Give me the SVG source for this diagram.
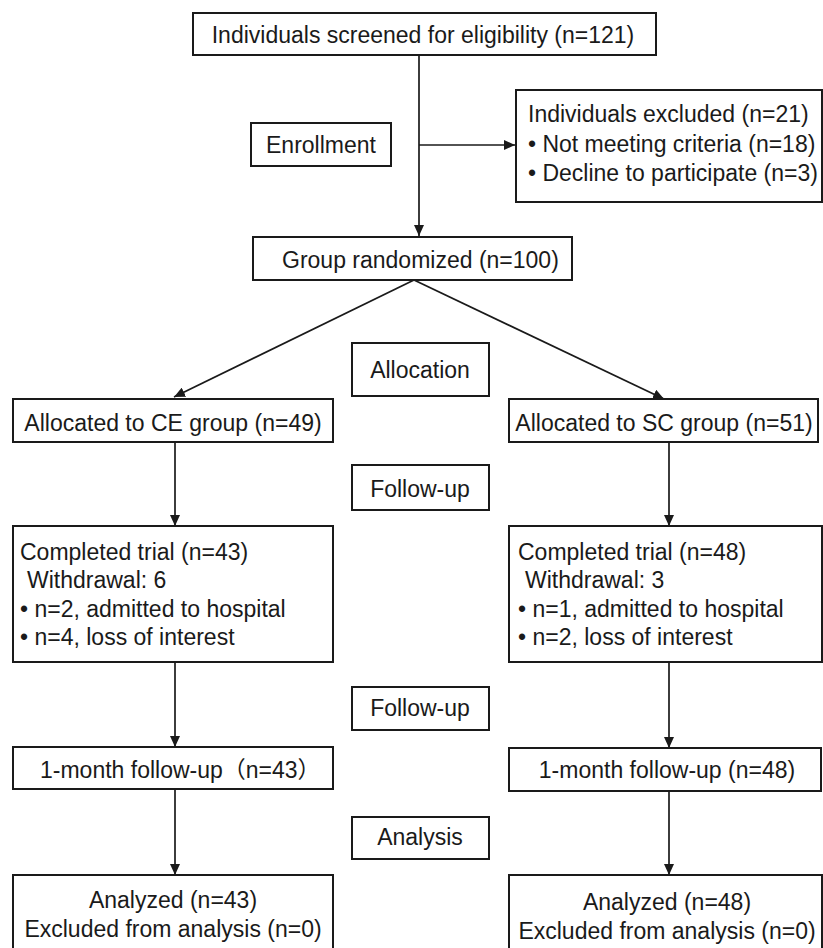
<svg xmlns="http://www.w3.org/2000/svg" width="823" height="948" viewBox="0 0 823 948">
<style>
rect{fill:#fff;stroke:#1a1a1a;stroke-width:2}
text{font-family:"Liberation Sans","Noto Sans CJK SC",Arial,sans-serif;font-size:23px;fill:#1a1a1a}
.c{text-anchor:middle}
.ln{stroke:#1a1a1a;stroke-width:1.7;fill:none;marker-end:url(#ah)}
</style>
<defs>
<marker id="ah" markerUnits="userSpaceOnUse" markerWidth="12" markerHeight="10" refX="11" refY="5" orient="auto">
<path d="M0,0 L11,5 L0,10 Z" fill="#1a1a1a"/>
</marker>
</defs>
<rect x="0" y="0" width="823" height="948" style="stroke:none"/>
<g id="connectors">
<line class="ln" x1="419" y1="55" x2="419" y2="236"/>
<line class="ln" x1="419" y1="145" x2="515" y2="145"/>
<line class="ln" x1="414" y1="280" x2="174" y2="397"/>
<line class="ln" x1="414" y1="280" x2="664" y2="399"/>
<line class="ln" x1="175" y1="442" x2="175" y2="526"/>
<line class="ln" x1="669" y1="442" x2="669" y2="526"/>
<line class="ln" x1="175" y1="662" x2="175" y2="747"/>
<line class="ln" x1="669" y1="662" x2="669" y2="748"/>
<line class="ln" x1="175" y1="789" x2="175" y2="875"/>
<line class="ln" x1="669" y1="791" x2="669" y2="875"/>
</g>
<g id="screened"><rect x="193" y="13" width="463" height="42"/><text class="c" x="423" y="43">Individuals screened for eligibility (n=121)</text></g>
<g id="enrollment"><rect x="251" y="123" width="140" height="43"/><text class="c" x="321" y="153">Enrollment</text></g>
<g id="excluded"><rect x="516" y="90" width="306" height="112"/>
<text x="528" y="122">Individuals excluded (n=21)</text>
<text x="528" y="152">• Not meeting criteria (n=18)</text>
<text x="528" y="181">• Decline to participate (n=3)</text></g>
<g id="randomized"><rect x="253" y="237" width="319" height="43"/><text x="282" y="268">Group randomized (n=100)</text></g>
<g id="allocation"><rect x="352" y="343" width="137" height="53"/><text class="c" x="420" y="378">Allocation</text></g>
<g id="alloc-ce"><rect x="13" y="399" width="320" height="43"/><text class="c" x="173" y="431">Allocated to CE group (n=49)</text></g>
<g id="alloc-sc"><rect x="509" y="399" width="309" height="43"/><text class="c" x="664" y="431">Allocated to SC group (n=51)</text></g>
<g id="followup1"><rect x="352" y="465" width="137" height="45"/><text class="c" x="420" y="497">Follow-up</text></g>
<g id="completed-ce"><rect x="13" y="526" width="320" height="136"/>
<text x="20" y="560">Completed trial (n=43)</text>
<text x="27" y="588">Withdrawal: 6</text>
<text x="20" y="617">• n=2, admitted to hospital</text>
<text x="20" y="645">• n=4, loss of interest</text></g>
<g id="completed-sc"><rect x="509" y="526" width="313" height="136"/>
<text x="518" y="560">Completed trial (n=48)</text>
<text x="525" y="588">Withdrawal: 3</text>
<text x="518" y="617">• n=1, admitted to hospital</text>
<text x="518" y="645">• n=2, loss of interest</text></g>
<g id="followup2"><rect x="352" y="687" width="137" height="43"/><text class="c" x="420" y="716">Follow-up</text></g>
<g id="month-ce"><rect x="13" y="747" width="320" height="42"/><text x="40" y="778">1-month follow-up（n=43）</text></g>
<g id="month-sc"><rect x="509" y="748" width="312" height="43"/><text class="c" x="667" y="778">1-month follow-up (n=48)</text></g>
<g id="analysis"><rect x="352" y="817" width="137" height="42"/><text class="c" x="420" y="845">Analysis</text></g>
<g id="analyzed-ce"><rect x="13" y="875" width="320" height="80"/>
<text class="c" x="173" y="908">Analyzed (n=43)</text>
<text class="c" x="173" y="937">Excluded from analysis (n=0)</text></g>
<g id="analyzed-sc"><rect x="509" y="875" width="313" height="80"/>
<text class="c" x="667" y="910">Analyzed (n=48)</text>
<text class="c" x="667" y="939">Excluded from analysis (n=0)</text></g>
</svg>
